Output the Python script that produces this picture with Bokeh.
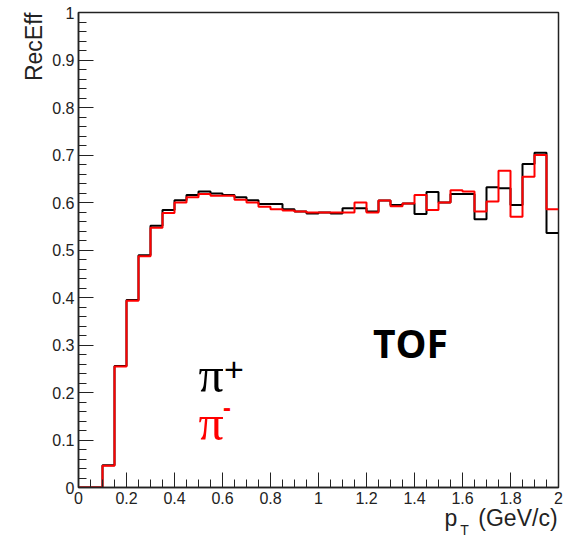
import numpy as np
from bokeh.plotting import figure
from bokeh.models import FixedTicker, Label, Range1d, Title, LinearAxis
from bokeh.embed import file_html
from bokeh.resources import INLINE

# ---- data: 40 bins of pT from 0 to 2 GeV/c ----
bin_edges = np.linspace(0.0, 2.0, 41)

eff_pi_plus = [0.000, 0.000, 0.047, 0.256, 0.395, 0.489, 0.551, 0.584, 0.605, 0.616,
               0.623, 0.619, 0.616, 0.611, 0.605, 0.597, 0.597, 0.586, 0.581, 0.577,
               0.579, 0.577, 0.588, 0.588, 0.581, 0.604, 0.595, 0.598, 0.576, 0.622,
               0.600, 0.618, 0.618, 0.565, 0.632, 0.630, 0.595, 0.681, 0.705, 0.536]

eff_pi_minus = [0.000, 0.000, 0.046, 0.255, 0.393, 0.487, 0.547, 0.578, 0.600, 0.611,
                0.618, 0.614, 0.614, 0.606, 0.600, 0.591, 0.586, 0.583, 0.581, 0.579,
                0.579, 0.579, 0.579, 0.600, 0.579, 0.604, 0.592, 0.598, 0.616, 0.584,
                0.600, 0.626, 0.623, 0.581, 0.602, 0.667, 0.570, 0.654, 0.700, 0.586]

x_ticks = [0, 0.2, 0.4, 0.6, 0.8, 1.0, 1.2, 1.4, 1.6, 1.8, 2.0]
x_tick_labels = ["0", "0.2", "0.4", "0.6", "0.8", "1", "1.2", "1.4", "1.6", "1.8", "2"]
y_ticks = [0, 0.1, 0.2, 0.3, 0.4, 0.5, 0.6, 0.7, 0.8, 0.9, 1.0]
y_tick_labels = ["0", "0.1", "0.2", "0.3", "0.4", "0.5", "0.6", "0.7", "0.8", "0.9", "1"]

y_title = "RecEff"
x_title_parts = {1.552: "p", 1.831: "(GeV/c)"}
x_title_sub = {1.608: "T"}

W, H = 569, 545
p = figure(width=W, height=H, output_backend="svg", toolbar_location=None,
           x_range=Range1d(0, 2), y_range=Range1d(0, 1),
           min_border_left=78, min_border_right=11, min_border_top=12, min_border_bottom=58)
p.grid.visible = False
p.outline_line_color = "#222222"
p.outline_line_width = 1.5
p.background_fill_color = "white"
p.border_fill_color = "white"

x_minor = list(np.round(np.arange(0, 2.0001, 0.05), 4))
y_minor = list(np.round(np.arange(0, 1.0001, 0.02), 4))
p.xaxis.ticker = FixedTicker(ticks=x_ticks, minor_ticks=x_minor)
p.yaxis.ticker = FixedTicker(ticks=y_ticks, minor_ticks=y_minor)
p.xaxis.major_label_overrides = {t: l for t, l in zip(x_ticks, x_tick_labels)}
p.yaxis.major_label_overrides = {t: l for t, l in zip(y_ticks, y_tick_labels)}

for ax in (p.xaxis, p.yaxis):
    ax.major_tick_in = 15
    ax.major_tick_out = 0
    ax.minor_tick_in = 8
    ax.minor_tick_out = 0
    ax.axis_line_color = "#222222"
    ax.axis_line_width = 1.5
    ax.major_tick_line_color = "#222222"
    ax.minor_tick_line_color = "#222222"
    ax.major_label_text_font = "Liberation Sans"
    ax.major_label_text_font_size = "16px"
    ax.major_label_text_color = "#222222"
    ax.major_label_standoff = 4

p.step(bin_edges, list(eff_pi_plus) + [eff_pi_plus[-1]], mode="after",
       line_color="black", line_width=2)
p.step(bin_edges, list(eff_pi_minus) + [eff_pi_minus[-1]], mode="after",
       line_color="#ff0000", line_width=2)

# y axis title, aligned to the top end of the axis
p.add_layout(Title(text=y_title, align="right", text_font="Liberation Sans",
                   text_font_size="23px", text_font_style="normal",
                   text_color="#222222", standoff=5), "left")


def text_axis(labels, size, standoff):
    ax = LinearAxis(ticker=FixedTicker(ticks=list(labels.keys()), minor_ticks=[]),
                    major_label_overrides=dict(labels))
    ax.axis_line_color = None
    ax.major_tick_line_color = None
    ax.minor_tick_line_color = None
    ax.major_tick_in = 0
    ax.major_tick_out = 0
    ax.major_label_standoff = standoff
    ax.major_label_text_font = "Liberation Sans"
    ax.major_label_text_font_size = size
    ax.major_label_text_color = "#222222"
    return ax


# x axis title "p_T (GeV/c)", right-aligned under the axis
p.add_layout(text_axis(x_title_parts, "23px", -2), "below")
p.add_layout(text_axis(x_title_sub, "14px", -12), "below")

# annotations
p.add_layout(Label(x=1.383, y=0.305, text="TOF", text_align="center", text_baseline="middle",
                   text_font="Open Sans", text_font_style="bold", text_font_size="39px",
                   text_color="black"))
p.add_layout(Label(x=0.5, y=0.237, text="π", text_align="left", text_baseline="middle",
                   text_font="Liberation Serif", text_font_size="50px", text_color="black"))
p.add_layout(Label(x=0.648, y=0.248, text="+", text_align="center", text_baseline="middle",
                   text_font="Liberation Sans", text_font_size="34px",
                   text_color="black"))
p.add_layout(Label(x=0.5, y=0.136, text="π", text_align="left", text_baseline="middle",
                   text_font="Liberation Serif", text_font_size="50px", text_color="#ff0000"))
p.add_layout(Label(x=0.619, y=0.168, text="-", text_align="center", text_baseline="middle",
                   text_font="Liberation Sans", text_font_size="24px", text_font_style="bold",
                   text_color="#ff0000"))

open("out.html", "w").write(file_html(p, INLINE))
